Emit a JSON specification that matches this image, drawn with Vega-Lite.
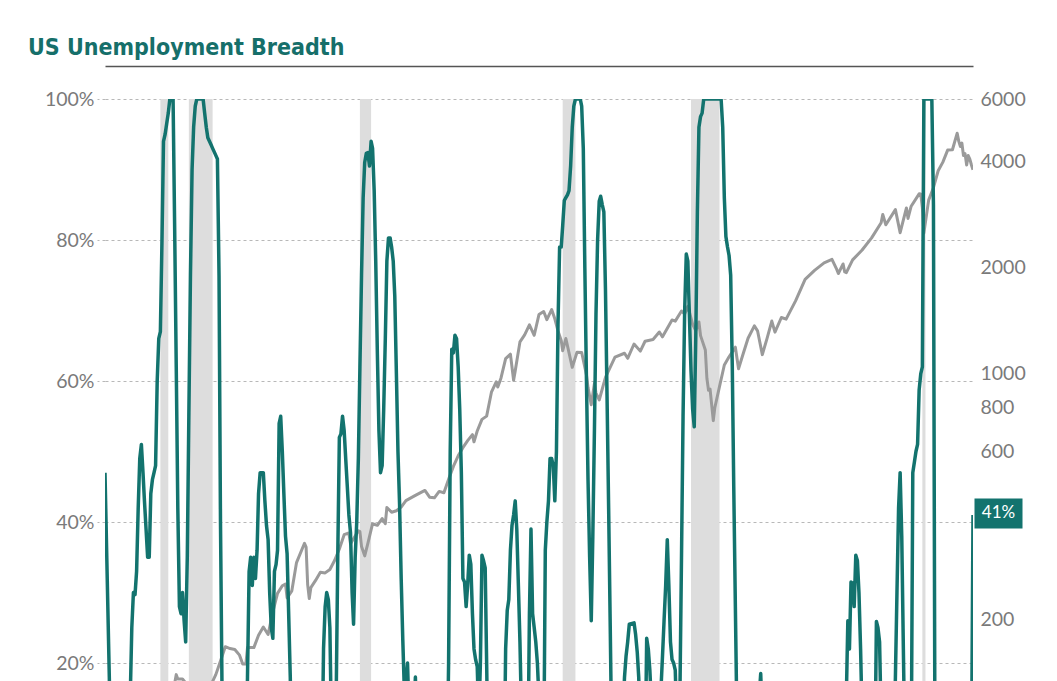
{
  "$schema": "https://vega.github.io/schema/vega-lite/v6.json",
  "width": 868,
  "height": 582,
  "autosize": "none",
  "padding": {"left": 105, "top": 99, "right": 84, "bottom": 0},
  "background": "white",
  "config": {"view": {"stroke": null}},
  "title": {
    "text": "US Unemployment Breadth",
    "anchor": "start",
    "frame": "group",
    "dx": -77,
    "offset": 6,
    "font": "DejaVu Sans Condensed, Liberation Sans Narrow, sans-serif",
    "fontSize": 23,
    "fontWeight": "bold",
    "color": "#166f6a"
  },
  "datasets": {
    "recessions": [
      {"date": "1980-01", "end": "1980-06"},
      {"date": "1981-07", "end": "1982-10"},
      {"date": "1990-07", "end": "1991-02"},
      {"date": "2001-03", "end": "2001-11"},
      {"date": "2007-12", "end": "2009-06"},
      {"date": "2020-02", "end": "2020-04"}
    ],
    "spx": [
      {"date": "1977-02", "sp": 100}, {"date": "1977-06", "sp": 100.5}, {"date": "1977-10", "sp": 92},
      {"date": "1978-02", "sp": 87}, {"date": "1978-08", "sp": 103}, {"date": "1978-10", "sp": 93},
      {"date": "1979-01", "sp": 100}, {"date": "1979-06", "sp": 102}, {"date": "1979-09", "sp": 109},
      {"date": "1979-10", "sp": 101}, {"date": "1980-01", "sp": 114}, {"date": "1980-03", "sp": 102},
      {"date": "1980-06", "sp": 114}, {"date": "1980-09", "sp": 125}, {"date": "1980-11", "sp": 140},
      {"date": "1980-12", "sp": 136}, {"date": "1981-03", "sp": 136}, {"date": "1981-06", "sp": 131},
      {"date": "1981-09", "sp": 116}, {"date": "1981-12", "sp": 122}, {"date": "1982-03", "sp": 112},
      {"date": "1982-07", "sp": 107}, {"date": "1982-08", "sp": 120}, {"date": "1982-10", "sp": 134},
      {"date": "1982-12", "sp": 140}, {"date": "1983-03", "sp": 153}, {"date": "1983-06", "sp": 168},
      {"date": "1983-09", "sp": 166}, {"date": "1983-12", "sp": 165}, {"date": "1984-03", "sp": 159},
      {"date": "1984-05", "sp": 150}, {"date": "1984-07", "sp": 150}, {"date": "1984-08", "sp": 167},
      {"date": "1984-12", "sp": 167}, {"date": "1985-03", "sp": 181}, {"date": "1985-06", "sp": 191},
      {"date": "1985-09", "sp": 182}, {"date": "1985-12", "sp": 211}, {"date": "1986-03", "sp": 238},
      {"date": "1986-06", "sp": 250}, {"date": "1986-08", "sp": 253}, {"date": "1986-09", "sp": 231},
      {"date": "1986-12", "sp": 242}, {"date": "1987-03", "sp": 291}, {"date": "1987-08", "sp": 330},
      {"date": "1987-09", "sp": 322}, {"date": "1987-10", "sp": 252}, {"date": "1987-11", "sp": 230},
      {"date": "1987-12", "sp": 247}, {"date": "1988-03", "sp": 259}, {"date": "1988-06", "sp": 273},
      {"date": "1988-09", "sp": 272}, {"date": "1988-12", "sp": 278}, {"date": "1989-03", "sp": 295},
      {"date": "1989-06", "sp": 318}, {"date": "1989-09", "sp": 349}, {"date": "1989-12", "sp": 353},
      {"date": "1990-01", "sp": 329}, {"date": "1990-06", "sp": 358}, {"date": "1990-07", "sp": 356},
      {"date": "1990-08", "sp": 323}, {"date": "1990-10", "sp": 304}, {"date": "1990-12", "sp": 330},
      {"date": "1991-03", "sp": 375}, {"date": "1991-06", "sp": 371}, {"date": "1991-09", "sp": 388},
      {"date": "1991-11", "sp": 375}, {"date": "1991-12", "sp": 417}, {"date": "1992-03", "sp": 404},
      {"date": "1992-06", "sp": 408}, {"date": "1992-09", "sp": 418}, {"date": "1992-12", "sp": 436},
      {"date": "1993-06", "sp": 451}, {"date": "1993-12", "sp": 466}, {"date": "1994-03", "sp": 446},
      {"date": "1994-06", "sp": 444}, {"date": "1994-09", "sp": 463}, {"date": "1994-12", "sp": 459},
      {"date": "1995-03", "sp": 501}, {"date": "1995-06", "sp": 545}, {"date": "1995-09", "sp": 584},
      {"date": "1995-12", "sp": 616}, {"date": "1996-03", "sp": 645}, {"date": "1996-06", "sp": 671},
      {"date": "1996-07", "sp": 640}, {"date": "1996-09", "sp": 687}, {"date": "1996-12", "sp": 741},
      {"date": "1997-03", "sp": 757}, {"date": "1997-06", "sp": 885}, {"date": "1997-09", "sp": 947},
      {"date": "1997-10", "sp": 915}, {"date": "1997-12", "sp": 970}, {"date": "1998-03", "sp": 1102},
      {"date": "1998-06", "sp": 1134}, {"date": "1998-08", "sp": 957}, {"date": "1998-09", "sp": 1017},
      {"date": "1998-12", "sp": 1229}, {"date": "1999-03", "sp": 1286}, {"date": "1999-06", "sp": 1373},
      {"date": "1999-09", "sp": 1283}, {"date": "1999-12", "sp": 1469}, {"date": "2000-03", "sp": 1499},
      {"date": "2000-05", "sp": 1421}, {"date": "2000-08", "sp": 1518}, {"date": "2000-10", "sp": 1429},
      {"date": "2000-12", "sp": 1320}, {"date": "2001-02", "sp": 1240}, {"date": "2001-03", "sp": 1160},
      {"date": "2001-05", "sp": 1256}, {"date": "2001-09", "sp": 1041}, {"date": "2001-12", "sp": 1148},
      {"date": "2002-03", "sp": 1147}, {"date": "2002-06", "sp": 990}, {"date": "2002-07", "sp": 912},
      {"date": "2002-09", "sp": 815}, {"date": "2002-11", "sp": 936}, {"date": "2002-12", "sp": 880},
      {"date": "2003-02", "sp": 841}, {"date": "2003-06", "sp": 975}, {"date": "2003-12", "sp": 1112},
      {"date": "2004-06", "sp": 1141}, {"date": "2004-08", "sp": 1104}, {"date": "2004-12", "sp": 1212},
      {"date": "2005-04", "sp": 1157}, {"date": "2005-07", "sp": 1234}, {"date": "2005-12", "sp": 1248},
      {"date": "2006-04", "sp": 1311}, {"date": "2006-06", "sp": 1270}, {"date": "2006-12", "sp": 1418},
      {"date": "2007-02", "sp": 1407}, {"date": "2007-06", "sp": 1503}, {"date": "2007-08", "sp": 1474},
      {"date": "2007-10", "sp": 1549}, {"date": "2008-01", "sp": 1379}, {"date": "2008-03", "sp": 1323},
      {"date": "2008-05", "sp": 1400}, {"date": "2008-06", "sp": 1280}, {"date": "2008-09", "sp": 1166},
      {"date": "2008-10", "sp": 969}, {"date": "2008-11", "sp": 896}, {"date": "2008-12", "sp": 903},
      {"date": "2009-02", "sp": 735}, {"date": "2009-03", "sp": 798}, {"date": "2009-06", "sp": 919},
      {"date": "2009-09", "sp": 1057}, {"date": "2009-12", "sp": 1115}, {"date": "2010-04", "sp": 1187},
      {"date": "2010-06", "sp": 1031}, {"date": "2010-09", "sp": 1141}, {"date": "2010-12", "sp": 1258},
      {"date": "2011-04", "sp": 1364}, {"date": "2011-06", "sp": 1321}, {"date": "2011-09", "sp": 1131},
      {"date": "2011-12", "sp": 1258}, {"date": "2012-03", "sp": 1408}, {"date": "2012-05", "sp": 1310},
      {"date": "2012-09", "sp": 1441}, {"date": "2012-12", "sp": 1426}, {"date": "2013-06", "sp": 1606},
      {"date": "2013-12", "sp": 1848}, {"date": "2014-06", "sp": 1960}, {"date": "2014-12", "sp": 2059},
      {"date": "2015-05", "sp": 2107}, {"date": "2015-08", "sp": 1972}, {"date": "2015-09", "sp": 1920},
      {"date": "2015-12", "sp": 2044}, {"date": "2016-01", "sp": 1940}, {"date": "2016-02", "sp": 1932},
      {"date": "2016-06", "sp": 2099}, {"date": "2016-12", "sp": 2239}, {"date": "2017-06", "sp": 2423},
      {"date": "2017-12", "sp": 2674}, {"date": "2018-01", "sp": 2824}, {"date": "2018-03", "sp": 2641},
      {"date": "2018-09", "sp": 2914}, {"date": "2018-12", "sp": 2507}, {"date": "2019-04", "sp": 2946},
      {"date": "2019-05", "sp": 2752}, {"date": "2019-07", "sp": 2980}, {"date": "2019-12", "sp": 3231},
      {"date": "2020-01", "sp": 3226}, {"date": "2020-02", "sp": 2954}, {"date": "2020-03", "sp": 2500},
      {"date": "2020-06", "sp": 3100}, {"date": "2020-09", "sp": 3363}, {"date": "2020-12", "sp": 3756},
      {"date": "2021-03", "sp": 3973}, {"date": "2021-06", "sp": 4298}, {"date": "2021-09", "sp": 4308},
      {"date": "2021-12", "sp": 4800}, {"date": "2022-01", "sp": 4550}, {"date": "2022-02", "sp": 4400},
      {"date": "2022-03", "sp": 4500}, {"date": "2022-04", "sp": 4150}, {"date": "2022-05", "sp": 4200},
      {"date": "2022-06", "sp": 3900}, {"date": "2022-07", "sp": 4150}, {"date": "2022-08", "sp": 4050},
      {"date": "2022-09", "sp": 3900}, {"date": "2022-10", "sp": 3780}
    ],
    "breadth": [
      {"date": "1977-02", "v": 47}, {"date": "1977-06", "v": 5}, {"date": "1978-05", "v": 5},
      {"date": "1978-07", "v": 25}, {"date": "1978-08", "v": 30}, {"date": "1978-09", "v": 29.7},
      {"date": "1978-10", "v": 33}, {"date": "1978-11", "v": 42}, {"date": "1978-12", "v": 49},
      {"date": "1979-01", "v": 51}, {"date": "1979-02", "v": 47}, {"date": "1979-03", "v": 43},
      {"date": "1979-04", "v": 39}, {"date": "1979-05", "v": 35}, {"date": "1979-06", "v": 35},
      {"date": "1979-07", "v": 44}, {"date": "1979-08", "v": 46}, {"date": "1979-09", "v": 47},
      {"date": "1979-10", "v": 48}, {"date": "1979-11", "v": 60}, {"date": "1979-12", "v": 66},
      {"date": "1980-01", "v": 67}, {"date": "1980-02", "v": 80}, {"date": "1980-03", "v": 94},
      {"date": "1980-04", "v": 95}, {"date": "1980-05", "v": 96.5}, {"date": "1980-06", "v": 98},
      {"date": "1980-07", "v": 100}, {"date": "1980-09", "v": 100}, {"date": "1980-10", "v": 82},
      {"date": "1980-11", "v": 62}, {"date": "1980-12", "v": 42}, {"date": "1981-01", "v": 28},
      {"date": "1981-02", "v": 27}, {"date": "1981-03", "v": 30}, {"date": "1981-04", "v": 26},
      {"date": "1981-05", "v": 23}, {"date": "1981-06", "v": 35}, {"date": "1981-07", "v": 55},
      {"date": "1981-08", "v": 75}, {"date": "1981-09", "v": 90}, {"date": "1981-10", "v": 96},
      {"date": "1981-11", "v": 99}, {"date": "1981-12", "v": 100}, {"date": "1982-04", "v": 100},
      {"date": "1982-05", "v": 98}, {"date": "1982-06", "v": 96}, {"date": "1982-07", "v": 94.5},
      {"date": "1982-08", "v": 94}, {"date": "1982-09", "v": 93.5}, {"date": "1982-10", "v": 93},
      {"date": "1982-11", "v": 92.5}, {"date": "1982-12", "v": 92}, {"date": "1983-01", "v": 91.5},
      {"date": "1983-02", "v": 75}, {"date": "1983-03", "v": 40}, {"date": "1983-04", "v": 15},
      {"date": "1983-05", "v": 5}, {"date": "1984-07", "v": 5}, {"date": "1984-08", "v": 18},
      {"date": "1984-09", "v": 33}, {"date": "1984-10", "v": 35}, {"date": "1984-11", "v": 31},
      {"date": "1984-12", "v": 35}, {"date": "1985-01", "v": 32}, {"date": "1985-02", "v": 36},
      {"date": "1985-03", "v": 44}, {"date": "1985-04", "v": 47}, {"date": "1985-06", "v": 47},
      {"date": "1985-07", "v": 43}, {"date": "1985-08", "v": 39.5}, {"date": "1985-09", "v": 37.5},
      {"date": "1985-10", "v": 30}, {"date": "1985-11", "v": 25}, {"date": "1985-12", "v": 23.5},
      {"date": "1986-01", "v": 33}, {"date": "1986-02", "v": 34}, {"date": "1986-03", "v": 36},
      {"date": "1986-04", "v": 54}, {"date": "1986-05", "v": 55}, {"date": "1986-06", "v": 50},
      {"date": "1986-07", "v": 44}, {"date": "1986-08", "v": 38}, {"date": "1986-09", "v": 35.5},
      {"date": "1986-10", "v": 27}, {"date": "1986-11", "v": 18}, {"date": "1986-12", "v": 5},
      {"date": "1988-07", "v": 5}, {"date": "1988-08", "v": 22}, {"date": "1988-09", "v": 28},
      {"date": "1988-10", "v": 30}, {"date": "1988-11", "v": 29}, {"date": "1988-12", "v": 25},
      {"date": "1989-01", "v": 10}, {"date": "1989-02", "v": 5}, {"date": "1989-04", "v": 15},
      {"date": "1989-05", "v": 35}, {"date": "1989-06", "v": 52}, {"date": "1989-07", "v": 52.5},
      {"date": "1989-08", "v": 55}, {"date": "1989-09", "v": 53}, {"date": "1989-10", "v": 49},
      {"date": "1989-11", "v": 45}, {"date": "1989-12", "v": 41}, {"date": "1990-01", "v": 38.5},
      {"date": "1990-02", "v": 30}, {"date": "1990-03", "v": 25.5}, {"date": "1990-04", "v": 35},
      {"date": "1990-05", "v": 40}, {"date": "1990-06", "v": 49}, {"date": "1990-07", "v": 62},
      {"date": "1990-08", "v": 75}, {"date": "1990-09", "v": 86}, {"date": "1990-10", "v": 91},
      {"date": "1990-11", "v": 92.3}, {"date": "1990-12", "v": 92.4}, {"date": "1991-01", "v": 90.5},
      {"date": "1991-02", "v": 94}, {"date": "1991-03", "v": 93}, {"date": "1991-04", "v": 87},
      {"date": "1991-05", "v": 77}, {"date": "1991-06", "v": 64}, {"date": "1991-07", "v": 53},
      {"date": "1991-08", "v": 47}, {"date": "1991-09", "v": 48}, {"date": "1991-10", "v": 56},
      {"date": "1991-11", "v": 66}, {"date": "1991-12", "v": 77}, {"date": "1992-01", "v": 80.3},
      {"date": "1992-02", "v": 80.3}, {"date": "1992-03", "v": 79}, {"date": "1992-04", "v": 77},
      {"date": "1992-05", "v": 72}, {"date": "1992-06", "v": 61}, {"date": "1992-07", "v": 50},
      {"date": "1992-08", "v": 42.5}, {"date": "1992-09", "v": 32}, {"date": "1992-10", "v": 23.5},
      {"date": "1992-11", "v": 16}, {"date": "1992-12", "v": 17}, {"date": "1993-01", "v": 20},
      {"date": "1993-02", "v": 12}, {"date": "1993-04", "v": 8}, {"date": "1993-05", "v": 12},
      {"date": "1993-06", "v": 18}, {"date": "1993-07", "v": 10}, {"date": "1993-08", "v": 5},
      {"date": "1995-02", "v": 5}, {"date": "1995-03", "v": 20}, {"date": "1995-04", "v": 50},
      {"date": "1995-05", "v": 64.5}, {"date": "1995-06", "v": 64}, {"date": "1995-07", "v": 66.5},
      {"date": "1995-08", "v": 66}, {"date": "1995-09", "v": 62}, {"date": "1995-10", "v": 56},
      {"date": "1995-11", "v": 47}, {"date": "1995-12", "v": 32}, {"date": "1996-01", "v": 31.5},
      {"date": "1996-02", "v": 28}, {"date": "1996-03", "v": 31}, {"date": "1996-04", "v": 35.3},
      {"date": "1996-05", "v": 34}, {"date": "1996-06", "v": 27}, {"date": "1996-07", "v": 22},
      {"date": "1996-08", "v": 20.5}, {"date": "1996-09", "v": 19.5}, {"date": "1996-10", "v": 12},
      {"date": "1996-11", "v": 20}, {"date": "1996-12", "v": 35.3}, {"date": "1997-01", "v": 34.5},
      {"date": "1997-02", "v": 33.5}, {"date": "1997-03", "v": 20}, {"date": "1997-04", "v": 5},
      {"date": "1998-02", "v": 5}, {"date": "1998-03", "v": 22}, {"date": "1998-04", "v": 27.5},
      {"date": "1998-05", "v": 29}, {"date": "1998-06", "v": 36}, {"date": "1998-07", "v": 39.5},
      {"date": "1998-08", "v": 41}, {"date": "1998-09", "v": 43}, {"date": "1998-10", "v": 39},
      {"date": "1998-11", "v": 31}, {"date": "1998-12", "v": 23}, {"date": "1999-01", "v": 12},
      {"date": "1999-02", "v": 5}, {"date": "1999-05", "v": 5}, {"date": "1999-06", "v": 27},
      {"date": "1999-07", "v": 39}, {"date": "1999-08", "v": 27}, {"date": "1999-09", "v": 25},
      {"date": "1999-10", "v": 23}, {"date": "1999-11", "v": 20}, {"date": "1999-12", "v": 15},
      {"date": "2000-01", "v": 5}, {"date": "2000-03", "v": 5}, {"date": "2000-04", "v": 36},
      {"date": "2000-05", "v": 40}, {"date": "2000-06", "v": 43}, {"date": "2000-07", "v": 49},
      {"date": "2000-08", "v": 49}, {"date": "2000-09", "v": 48}, {"date": "2000-10", "v": 43},
      {"date": "2000-11", "v": 50}, {"date": "2000-12", "v": 68}, {"date": "2001-01", "v": 79},
      {"date": "2001-02", "v": 79}, {"date": "2001-03", "v": 82}, {"date": "2001-04", "v": 85.6},
      {"date": "2001-05", "v": 86}, {"date": "2001-06", "v": 86.4}, {"date": "2001-07", "v": 87},
      {"date": "2001-08", "v": 90.5}, {"date": "2001-09", "v": 96}, {"date": "2001-10", "v": 99},
      {"date": "2001-11", "v": 100}, {"date": "2002-02", "v": 100}, {"date": "2002-03", "v": 99},
      {"date": "2002-04", "v": 93}, {"date": "2002-05", "v": 76}, {"date": "2002-06", "v": 60},
      {"date": "2002-07", "v": 46}, {"date": "2002-08", "v": 35}, {"date": "2002-09", "v": 26},
      {"date": "2002-10", "v": 38}, {"date": "2002-11", "v": 53}, {"date": "2002-12", "v": 69.5},
      {"date": "2003-01", "v": 80}, {"date": "2003-02", "v": 85.5}, {"date": "2003-03", "v": 86.2},
      {"date": "2003-04", "v": 85}, {"date": "2003-05", "v": 84}, {"date": "2003-06", "v": 73},
      {"date": "2003-07", "v": 58}, {"date": "2003-08", "v": 42}, {"date": "2003-09", "v": 25},
      {"date": "2003-10", "v": 8}, {"date": "2004-04", "v": 5}, {"date": "2004-05", "v": 12},
      {"date": "2004-06", "v": 18}, {"date": "2004-07", "v": 21}, {"date": "2004-08", "v": 23},
      {"date": "2004-09", "v": 25.5}, {"date": "2004-12", "v": 25.7}, {"date": "2005-01", "v": 24},
      {"date": "2005-02", "v": 21.5}, {"date": "2005-03", "v": 18}, {"date": "2005-04", "v": 10},
      {"date": "2005-05", "v": 5}, {"date": "2005-07", "v": 5}, {"date": "2005-08", "v": 23.5},
      {"date": "2005-09", "v": 22}, {"date": "2005-10", "v": 19}, {"date": "2005-11", "v": 14},
      {"date": "2005-12", "v": 5}, {"date": "2006-04", "v": 5}, {"date": "2006-05", "v": 16},
      {"date": "2006-06", "v": 21}, {"date": "2006-07", "v": 26}, {"date": "2006-08", "v": 31},
      {"date": "2006-09", "v": 37.5}, {"date": "2006-10", "v": 31}, {"date": "2006-11", "v": 23},
      {"date": "2006-12", "v": 20.5}, {"date": "2007-01", "v": 20}, {"date": "2007-02", "v": 19},
      {"date": "2007-03", "v": 12}, {"date": "2007-04", "v": 6}, {"date": "2007-05", "v": 15},
      {"date": "2007-06", "v": 35}, {"date": "2007-07", "v": 55}, {"date": "2007-08", "v": 70},
      {"date": "2007-09", "v": 78}, {"date": "2007-10", "v": 77}, {"date": "2007-11", "v": 69},
      {"date": "2007-12", "v": 61.4}, {"date": "2008-01", "v": 56}, {"date": "2008-02", "v": 53.5},
      {"date": "2008-03", "v": 66}, {"date": "2008-04", "v": 84}, {"date": "2008-05", "v": 96},
      {"date": "2008-06", "v": 97.5}, {"date": "2008-07", "v": 98}, {"date": "2008-08", "v": 100},
      {"date": "2009-07", "v": 100}, {"date": "2009-08", "v": 96}, {"date": "2009-09", "v": 86},
      {"date": "2009-10", "v": 80.5}, {"date": "2009-11", "v": 79}, {"date": "2009-12", "v": 77.8},
      {"date": "2010-01", "v": 75}, {"date": "2010-02", "v": 62}, {"date": "2010-03", "v": 45},
      {"date": "2010-04", "v": 28}, {"date": "2010-05", "v": 12}, {"date": "2010-06", "v": 5},
      {"date": "2011-06", "v": 5}, {"date": "2011-07", "v": 15}, {"date": "2011-08", "v": 18.5},
      {"date": "2011-09", "v": 12}, {"date": "2011-10", "v": 5}, {"date": "2016-01", "v": 5},
      {"date": "2016-02", "v": 15}, {"date": "2016-03", "v": 26}, {"date": "2016-04", "v": 22},
      {"date": "2016-05", "v": 31.5}, {"date": "2016-06", "v": 31.3}, {"date": "2016-07", "v": 28},
      {"date": "2016-08", "v": 35.3}, {"date": "2016-09", "v": 34.5}, {"date": "2016-10", "v": 30},
      {"date": "2016-11", "v": 22}, {"date": "2016-12", "v": 12}, {"date": "2017-01", "v": 5},
      {"date": "2017-08", "v": 5}, {"date": "2017-09", "v": 25.9}, {"date": "2017-10", "v": 25},
      {"date": "2017-11", "v": 23}, {"date": "2017-12", "v": 12}, {"date": "2018-01", "v": 5},
      {"date": "2018-08", "v": 5}, {"date": "2018-09", "v": 18}, {"date": "2018-10", "v": 30},
      {"date": "2018-11", "v": 42}, {"date": "2018-12", "v": 47}, {"date": "2019-01", "v": 38},
      {"date": "2019-02", "v": 22}, {"date": "2019-03", "v": 8}, {"date": "2019-07", "v": 5},
      {"date": "2019-08", "v": 47}, {"date": "2019-09", "v": 48.5}, {"date": "2019-10", "v": 50},
      {"date": "2019-11", "v": 51}, {"date": "2019-12", "v": 58.7}, {"date": "2020-01", "v": 61},
      {"date": "2020-02", "v": 62}, {"date": "2020-03", "v": 100}, {"date": "2020-08", "v": 100},
      {"date": "2020-09", "v": 85}, {"date": "2020-10", "v": 5}, {"date": "2022-09", "v": 5},
      {"date": "2022-10", "v": 41}
    ],
    "latest": [{"date": "2022-10", "v": 41, "label": "41%"}]
  },
  "encoding": {
    "x": {
      "field": "date",
      "type": "temporal",
      "scale": {
        "type": "utc",
        "domain": [
          {"year": 1977, "month": 2, "date": 1, "utc": true},
          {"year": 2022, "month": 10, "date": 1, "utc": true}
        ],
        "nice": false
      },
      "axis": {
        "orient": "top",
        "offset": 33,
        "labels": false,
        "ticks": false,
        "grid": false,
        "domain": true,
        "domainColor": "#555555",
        "domainWidth": 1.5,
        "title": null
      }
    }
  },
  "layer": [
    {
      "data": {"name": "recessions"},
      "mark": {"type": "rect", "color": "#dddddd"},
      "encoding": {"x2": {"field": "end"}}
    },
    {
      "data": {"name": "spx"},
      "mark": {"type": "line", "clip": true, "color": "#9a9a9a", "strokeWidth": 3, "strokeJoin": "round"},
      "encoding": {
        "y": {
          "field": "sp",
          "type": "quantitative",
          "scale": {"type": "log", "domain": [134.3, 6000], "nice": false, "zero": false},
          "axis": {
            "orient": "right",
            "values": [200, 600, 800, 1000, 2000, 4000, 6000],
            "format": "d",
            "grid": false,
            "ticks": false,
            "domain": false,
            "labelPadding": 7,
            "labelFont": "Lato",
            "labelFontSize": 19.5,
            "labelColor": "#7a7a7a",
            "title": null
          }
        }
      }
    },
    {
      "encoding": {
        "y": {
          "field": "v",
          "type": "quantitative",
          "scale": {"domain": [17.45, 100], "nice": false, "zero": false},
          "axis": {
            "orient": "left",
            "values": [20, 40, 60, 80, 100],
            "labelExpr": "datum.value + '%'",
            "grid": true,
            "gridDash": [3, 3],
            "gridColor": "#b8b8b8",
            "gridWidth": 1,
            "ticks": true,
            "tickSize": 8,
            "tickDash": [3, 3],
            "tickColor": "#b8b8b8",
            "domain": false,
            "labelPadding": 3,
            "labelFont": "Lato",
            "labelFontSize": 19.5,
            "labelColor": "#7a7a7a",
            "title": null
          }
        }
      },
      "layer": [
        {
          "data": {"name": "breadth"},
          "mark": {"type": "line", "clip": true, "color": "#13736e", "strokeWidth": 3.5, "strokeJoin": "round"}
        },
        {
          "data": {"name": "latest"},
          "mark": {
            "type": "point",
            "shape": "M-1,-0.625L1,-0.625L1,0.625L-1,0.625Z",
            "size": 2304,
            "filled": true,
            "opacity": 1,
            "color": "#13736e",
            "xOffset": 25.5,
            "yOffset": -1.5
          }
        },
        {
          "data": {"name": "latest"},
          "mark": {
            "type": "text",
            "dx": 25.5,
            "dy": -1.5,
            "align": "center",
            "baseline": "middle",
            "color": "white",
            "font": "Lato",
            "fontSize": 17
          },
          "encoding": {"text": {"field": "label"}}
        }
      ]
    }
  ],
  "resolve": {"scale": {"y": "independent"}, "axis": {"y": "independent"}}
}
